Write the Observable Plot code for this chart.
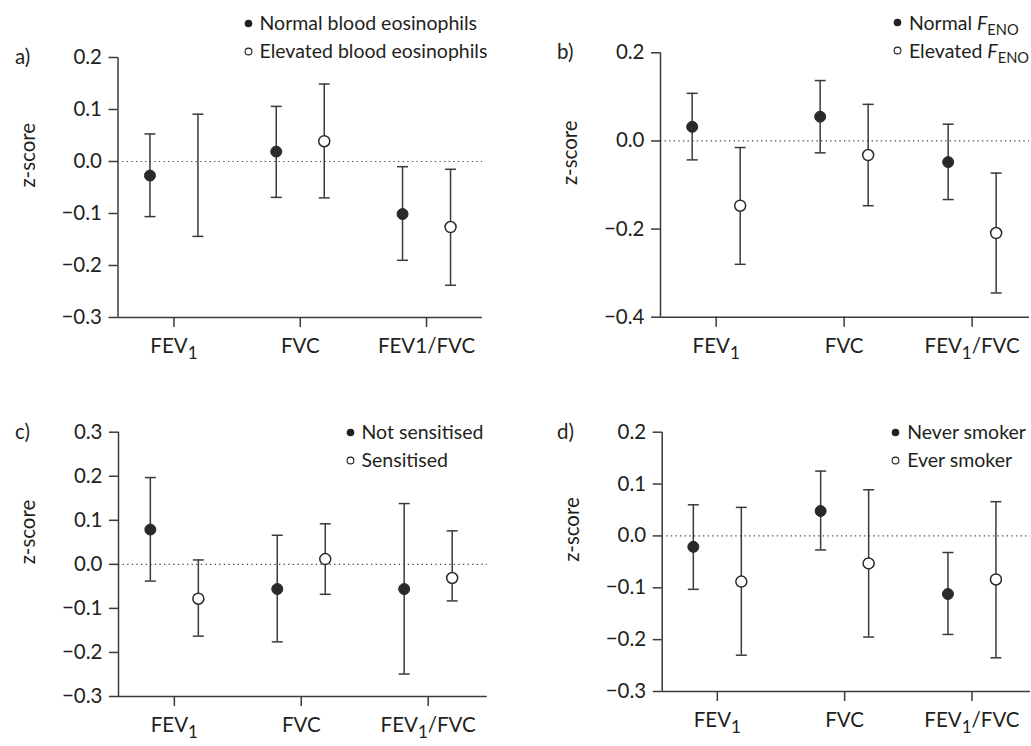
<!DOCTYPE html>
<html><head><meta charset="utf-8">
<script src="https://cdn.jsdelivr.net/npm/d3@7"></script>
<script src="https://cdn.jsdelivr.net/npm/@observablehq/plot@0.6"></script>
<style>
body{margin:0;background:#fff;font-family:Lato,"Noto Sans",sans-serif;color:#231f20}
#wrap{position:relative;width:1031px;height:746px;overflow:hidden;background:#fff}
.panel{position:absolute}
.plab{position:absolute;font-size:20.5px;line-height:1}
.legend{position:absolute;font-size:19.5px;line-height:28px;white-space:nowrap}
.legend .row{display:flex;align-items:center;height:28px}
.legend svg{margin-right:7px;flex:none}
.legend sub{font-size:0.75em;vertical-align:-0.35em;line-height:0}
</style></head>
<body><div id="wrap"></div>
<script>
// ---------- data ----------
const measures = ["FEV1", "FVC", "FEV1/FVC"];
const tickLabelsA = ["FEV_1", "FVC", "FEV1/FVC"];
const tickLabelsBCD = ["FEV_1", "FVC", "FEV_1/FVC"];

// a) blood eosinophils
const aNormalEst = [-0.027, 0.019, -0.101];
const aNormalLo  = [-0.106, -0.069, -0.190];
const aNormalHi  = [0.053, 0.106, -0.010];
const aElevEst   = [null, 0.039, -0.126];
const aElevLo    = [-0.144, -0.070, -0.238];
const aElevHi    = [0.091, 0.149, -0.015];

// b) FENO
const bNormalEst = [0.032, 0.055, -0.048];
const bNormalLo  = [-0.043, -0.027, -0.133];
const bNormalHi  = [0.108, 0.137, 0.038];
const bElevEst   = [-0.147, -0.032, -0.209];
const bElevLo    = [-0.280, -0.147, -0.345];
const bElevHi    = [-0.015, 0.083, -0.073];

// c) sensitisation
const cNotEst = [0.079, -0.056, -0.056];
const cNotLo  = [-0.038, -0.176, -0.249];
const cNotHi  = [0.197, 0.066, 0.138];
const cSensEst = [-0.078, 0.012, -0.031];
const cSensLo  = [-0.163, -0.068, -0.083];
const cSensHi  = [0.010, 0.092, 0.076];

// d) smoking
const dNeverEst = [-0.021, 0.048, -0.112];
const dNeverLo  = [-0.103, -0.027, -0.190];
const dNeverHi  = [0.060, 0.125, -0.032];
const dEverEst  = [-0.088, -0.053, -0.084];
const dEverLo   = [-0.230, -0.195, -0.235];
const dEverHi   = [0.055, 0.089, 0.066];

const yTicksA = [-0.3, -0.2, -0.1, 0, 0.1, 0.2];
const yTicksB = [-0.4, -0.2, 0, 0.2];
const yTicksC = [-0.3, -0.2, -0.1, 0, 0.1, 0.2, 0.3];
const yTicksD = [-0.3, -0.2, -0.1, 0, 0.1, 0.2];

// ---------- drawing ----------
const ink = "#2a2a2a";
const lineInk = "#3a3a3a";
const capSymbol = {draw(ctx, size) { const w = Math.sqrt(size / Math.PI); ctx.moveTo(-w, 0); ctx.lineTo(w, 0); }};

function rows(est, lo, hi) { return measures.map((m, i) => ({m, i, est: est[i], lo: lo[i], hi: hi[i]})); }

function applySubs(svg) {
  d3.select(svg).selectAll("text").each(function() {
    const t = this.textContent;
    if (!t.includes("_")) return;
    const parts = t.split(/_(\w)/);
    const sel = d3.select(this); sel.text(null);
    parts.forEach((p, k) => {
      if (!p) return;
      if (k % 2 === 1) sel.append("tspan").attr("dy", 6).attr("font-size", "17px").text(p);
      else sel.append("tspan").attr("dy", k > 0 ? -6 : null).text(p);
    });
  });
}

function panel(o) {
  const g1 = rows(o.est1, o.lo1, o.hi1), g2 = rows(o.est2, o.lo2, o.hi2);
  const bars = (data, dx) => [
    Plot.ruleX(data, {x: "i", y1: "lo", y2: "hi", dx, stroke: lineInk, strokeWidth: 1.5}),
    Plot.dot(data, {x: "i", y: "lo", dx, symbol: capSymbol, r: 5.5, fill: "none", stroke: lineInk, strokeWidth: 1.5}),
    Plot.dot(data, {x: "i", y: "hi", dx, symbol: capSymbol, r: 5.5, fill: "none", stroke: lineInk, strokeWidth: 1.5})
  ];
  const svg = Plot.plot({
    width: o.width, height: o.height,
    marginTop: o.mt, marginBottom: o.mb, marginLeft: o.ml, marginRight: o.mr,
    style: {fontFamily: "Lato, 'Noto Sans', sans-serif", fontSize: "20.5px", color: "#231f20", background: "transparent", overflow: "visible"},
    x: {type: "linear", domain: o.xDomain, axis: null},
    y: {domain: o.yDomain, axis: null},
    marks: [
      Plot.ruleY([0], {stroke: "#444", strokeWidth: 1.2, strokeDasharray: "1.3,3.3"}),
      ...bars(g1, -24), ...bars(g2, 24),
      Plot.dot(g1, {x: "i", y: "est", dx: -24, r: 5.5, fill: ink, stroke: ink, strokeWidth: 1}),
      Plot.dot(g2, {x: "i", y: "est", dx: 24, r: 5.5, fill: "white", stroke: ink, strokeWidth: 1.5}),
      Plot.ruleX([o.xDomain[0]], {stroke: lineInk, strokeWidth: 1.5}),
      Plot.ruleY([o.yDomain[0]], {stroke: lineInk, strokeWidth: 1.5}),
      Plot.axisY({ticks: o.yTicks, tickFormat: d3.format(".1f"), tickSize: 9, tickPadding: 7, strokeWidth: 1.5, stroke: lineInk, label: null}),
      Plot.axisX({ticks: [0, 1, 2], tickFormat: i => o.tickLabels[i], tickSize: 10, tickPadding: 11, strokeWidth: 1.5, stroke: lineInk, label: null}),
      Plot.text(["z-score"], {frameAnchor: "left", rotate: -90, dx: -90, fontSize: 20.5, fill: "#231f20"})
    ]
  });
  applySubs(svg);
  return svg;
}

const wrap = document.getElementById("wrap");
function place(el, left, top) { el.classList.add("panel"); el.style.left = left + "px"; el.style.top = top + "px"; wrap.appendChild(el); }

place(panel({width: 515, height: 370, mt: 57, mb: 53, ml: 117.5, mr: 33, xDomain: [-0.443, 2.443], yDomain: [-0.3, 0.2], yTicks: yTicksA, tickLabels: tickLabelsA,
  est1: aNormalEst, lo1: aNormalLo, hi1: aNormalHi, est2: aElevEst, lo2: aElevLo, hi2: aElevHi}), 0, 0);
place(panel({width: 516, height: 370, mt: 52.3, mb: 53.3, ml: 145, mr: 2, xDomain: [-0.435, 2.448], yDomain: [-0.4, 0.2], yTicks: yTicksB, tickLabels: tickLabelsBCD,
  est1: bNormalEst, lo1: bNormalLo, hi1: bNormalHi, est2: bElevEst, lo2: bElevLo, hi2: bElevHi}), 515, 0);
place(panel({width: 515, height: 376, mt: 61.7, mb: 50, ml: 118, mr: 28.3, xDomain: [-0.44, 2.465], yDomain: [-0.3, 0.3], yTicks: yTicksC, tickLabels: tickLabelsBCD,
  est1: cNotEst, lo1: cNotLo, hi1: cNotHi, est2: cSensEst, lo2: cSensLo, hi2: cSensHi}), 0, 370);
place(panel({width: 516, height: 376, mt: 61.7, mb: 55, ml: 146.7, mr: 1, xDomain: [-0.433, 2.46], yDomain: [-0.3, 0.2], yTicks: yTicksD, tickLabels: tickLabelsBCD,
  est1: dNeverEst, lo1: dNeverLo, hi1: dNeverHi, est2: dEverEst, lo2: dEverLo, hi2: dEverHi}), 515, 370);

// panel letters
[["a)", 15, 57], ["b)", 557, 52], ["c)", 15, 432], ["d)", 557, 432]].forEach(([t, x, y]) => {
  const d = document.createElement("div"); d.className = "plab"; d.textContent = t;
  d.style.left = x + "px"; d.style.top = (y - 11) + "px"; wrap.appendChild(d);
});

// legends
const dotFilled = '<svg width="9" height="9"><circle cx="4.5" cy="4.5" r="3.8" fill="#231f20"/></svg>';
const dotOpen = '<svg width="9" height="9"><circle cx="4.5" cy="4.5" r="3.4" fill="white" stroke="#231f20" stroke-width="1.1"/></svg>';
function legend(x, y, a, b, rightEdge) {
  const d = document.createElement("div"); d.className = "legend";
  d.style.top = (y - 14) + "px";
  d.innerHTML = `<div class="row">${dotFilled}<span>${a}</span></div><div class="row">${dotOpen}<span>${b}</span></div>`;
  wrap.appendChild(d);
  if (rightEdge) {
    const w = d.getBoundingClientRect().width;
    d.style.left = Math.min(x - 4.5, rightEdge - w) + "px";
  } else {
    d.style.left = (x - 4.5) + "px";
  }
}
legend(248, 23, "Normal blood eosinophils", "Elevated blood eosinophils");
legend(897.7, 22.7, "Normal <i>F</i><sub>ENO</sub>", "Elevated <i>F</i><sub>ENO</sub>", 1029);
legend(350, 432.3, "Not sensitised", "Sensitised");
legend(895.7, 432.3, "Never smoker", "Ever smoker", 1029);
</script></body></html>
